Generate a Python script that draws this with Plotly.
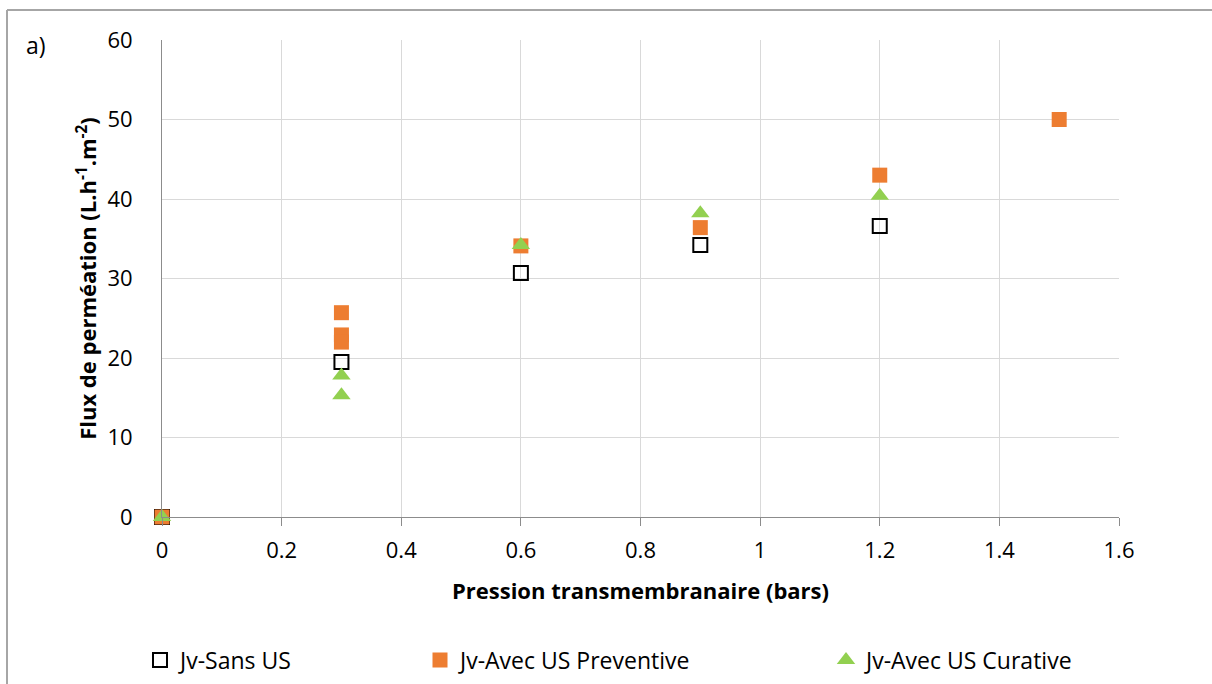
import plotly.graph_objects as go

# pression transmembranaire (bars) / flux (L.h-1.m-2)
sans_us_x = [0, 0.3, 0.6, 0.9, 1.2]
sans_us_y = [0, 19.5, 30.7, 34.2, 36.6]

preventive_x = [0, 0.3, 0.3, 0.3, 0.6, 0.9, 1.2, 1.5]
preventive_y = [0, 25.7, 22.9, 22.0, 34.1, 36.4, 43.0, 50.0]

curative_x = [0, 0.3, 0.3, 0.6, 0.9, 1.2]
curative_y = [0, 17.8, 15.3, 34.2, 38.2, 40.4]

x_ticks = [0, 0.2, 0.4, 0.6, 0.8, 1, 1.2, 1.4, 1.6]
x_tick_labels = ["0", "0.2", "0.4", "0.6", "0.8", "1", "1.2", "1.4", "1.6"]
y_ticks = [0, 10, 20, 30, 40, 50, 60]

FONT = "Open Sans, Liberation Sans, sans-serif"
W, H = 1212, 684
L, R, T, B = 162, 93, 40, 167
PW, PH = W - L - R, H - T - B


def px_x(p):
    return (p - L) / PW


def px_y(p):
    return (H - B - p) / PH


fig = go.Figure([
    go.Scatter(
        x=sans_us_x, y=sans_us_y, mode="markers", name="Jv-Sans US",
        marker=dict(symbol="square-open", size=14, color="#000000",
                    line=dict(width=2, color="#000000")),
        legend="legend", showlegend=True, cliponaxis=False,
    ),
    go.Scatter(
        x=preventive_x, y=preventive_y, mode="markers",
        name="Jv-Avec US Preventive",
        marker=dict(symbol="square", size=15, color="#ED7D31"),
        legend="legend2", showlegend=True, cliponaxis=False,
    ),
    go.Scatter(
        x=curative_x, y=curative_y, mode="markers",
        name="Jv-Avec US Curative",
        marker=dict(symbol="triangle-up", size=16, color="#92D050"),
        legend="legend3", showlegend=True, cliponaxis=False,
    ),
])

legend_style = dict(
    orientation="h", yanchor="middle", xanchor="left",
    xref="container", yref="container",
    font=dict(family=FONT, size=23, color="#000000"),
    bgcolor="rgba(0,0,0,0)", itemwidth=30,
)
legend_y = 1 - 660 / H
fig.update_layout(
    width=W, height=H,
    margin=dict(l=L, r=R, t=T, b=B),
    paper_bgcolor="white", plot_bgcolor="white",
    font=dict(family=FONT, color="#000000"),
    showlegend=True,
    legend=dict(x=140 / W, y=legend_y, **legend_style),
    legend2=dict(x=420 / W, y=legend_y, **legend_style),
    legend3=dict(x=826 / W, y=legend_y, **legend_style),
    xaxis=dict(
        range=[0, 1.6], tickvals=x_ticks, ticktext=x_tick_labels,
        showgrid=True, gridcolor="#d9d9d9", gridwidth=1,
        showline=True, linecolor="#8c8c8c", linewidth=1,
        ticks="outside", ticklen=8, tickcolor="#8c8c8c",
        ticklabelstandoff=6,
        tickfont=dict(size=22), zeroline=False,
        title=dict(text="<b>Pression transmembranaire (bars)</b>",
                   font=dict(size=22), standoff=20),
    ),
    yaxis=dict(
        range=[0, 60], tickvals=y_ticks,
        showgrid=True, gridcolor="#d9d9d9", gridwidth=1,
        showline=True, linecolor="#8c8c8c", linewidth=1,
        ticks="", ticklabelstandoff=24,
        tickfont=dict(size=22), zeroline=False,
        title=dict(
            text="<b>Flux de perméation (L.h<sup>-1</sup>.m<sup>-2</sup>)</b>",
            font=dict(size=22), standoff=4),
    ),
)

fig.add_annotation(
    text="a)", xref="paper", yref="paper", x=px_x(24), y=px_y(45),
    xanchor="left", yanchor="middle", showarrow=False,
    font=dict(family=FONT, size=23, color="#000000"),
)

# chart frame (top and left edges visible)
fig.add_shape(type="line", xref="paper", yref="paper",
              x0=px_x(7), x1=px_x(W + 5), y0=px_y(10), y1=px_y(10),
              line=dict(color="#a6a6a6", width=2))
fig.add_shape(type="line", xref="paper", yref="paper",
              x0=px_x(7), x1=px_x(7), y0=px_y(10), y1=px_y(H + 5),
              line=dict(color="#a6a6a6", width=2))

fig.write_html("out.html", config={"displayModeBar": False},
               post_script="document.body.style.margin='0';")
